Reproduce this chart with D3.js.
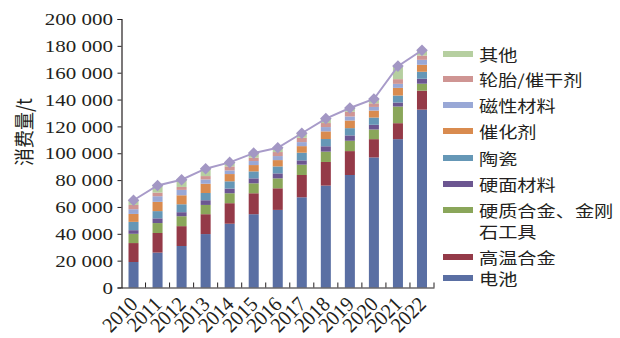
<!DOCTYPE html>
<html><head><meta charset="utf-8">
<script src="https://cdn.jsdelivr.net/npm/d3@7"></script>
<style>body{margin:0;background:#fff}svg{display:block}</style>
</head><body><svg id="c" width="620" height="338"></svg>
<script>
const years = ["2010","2011","2012","2013","2014","2015","2016","2017","2018","2019","2020","2021","2022"];
const battery    = [19000,26000,30900,39800,47500,54600,57800,67200,75900,83800,96900,110500,132500];
const superalloy = [14100,14600,14800,14800,15300,15600,16100,16600,17600,17800,13600,11900,14100];
const carbide    = [6900,7400,7400,6900,7400,7400,7400,7700,7700,7700,7200,12400,5200];
const hardfacing = [2700,3500,3000,3500,3500,3700,3700,3200,4000,4000,3500,3000,3700];
const ceramics   = [6200,5400,5900,5400,5400,5200,5200,5700,5400,5400,5400,5200,5200];
const catalyst   = [5900,6900,6700,6900,5400,4700,4700,4900,5700,5700,5200,5700,5200];
const magnetic   = [3500,4200,4000,3200,2700,3000,3000,3000,3200,3000,2700,3000,3700];
const tyre       = [3200,2700,2200,2500,3000,2500,3000,3200,3000,3500,2700,3500,3200];
const other      = [3500,5300,5400,5500,3000,3400,3200,3400,3300,2800,3200,9700,3900];
const totals     = [65000,76000,80300,88500,93200,100100,104100,114900,125800,133700,140400,164900,176700];
const yTicks = [0,20000,40000,60000,80000,100000,120000,140000,160000,180000,200000];
const seriesNames = ["电池","高温合金","硬质合金、金刚石工具","硬面材料","陶瓷","催化剂","磁性材料","轮胎/催干剂","其他"];
const seriesVals = [battery,superalloy,carbide,hardfacing,ceramics,catalyst,magnetic,tyre,other];
const colors = ["#5a6fa3","#943a48","#8aa65a","#6c5691","#6597b6","#d98b4f","#99a8d6","#cf9593","#b6cfa0"];
const lineColor = "#a89bc9";

const svg = d3.select("#c");
const ink = "#231f20";
const serif = "'Liberation Serif','Times New Roman',serif";
const cjk = "'Noto Sans CJK SC','Noto Sans CJK TC',sans-serif";

const x = d3.scaleBand().domain(years).range([121.5, 434]).paddingInner(0.583).paddingOuter(0.2915);
const y = d3.scaleLinear().domain([0, 200000]).range([287.5, 19]);

const table = years.map((yr, i) => {
  const o = {year: yr};
  seriesNames.forEach((n, k) => o[n] = seriesVals[k][i]);
  return o;
});
const stacked = d3.stack().keys(seriesNames)(table);
const color = d3.scaleOrdinal().domain(seriesNames).range(colors);

svg.append("g").selectAll("g").data(stacked).join("g")
  .attr("fill", d => color(d.key))
  .selectAll("rect").data(d => d).join("rect")
  .attr("x", d => x(d.data.year))
  .attr("width", x.bandwidth())
  .attr("y", d => y(d[1]))
  .attr("height", d => y(d[0]) - y(d[1]));

const cx = d => x(d) + x.bandwidth() / 2;
svg.append("path")
  .datum(years.map((yr, i) => [cx(yr), y(totals[i])]))
  .attr("fill", "none").attr("stroke", lineColor).attr("stroke-width", 2)
  .attr("d", d3.line());
svg.append("g").selectAll("path").data(years).join("path")
  .attr("transform", (d, i) => `translate(${cx(d)},${y(totals[i])})`)
  .attr("d", d3.symbol().type(d3.symbolDiamond2).size(85))
  .attr("fill", "#a397c4");

const yAxis = svg.append("g").attr("transform", "translate(121.5,0)")
  .call(d3.axisLeft(y).tickValues(yTicks).tickSize(4).tickPadding(0)
    .tickFormat(d => d3.format(",")(d).replace(/,/g, " ")));
yAxis.select(".domain").attr("stroke", ink).attr("stroke-width", 1.2);
yAxis.selectAll(".tick line").attr("stroke", ink).attr("stroke-width", 1);
yAxis.selectAll(".tick text")
  .attr("x", -7.1).attr("transform", "scale(1.2,1)")
  .attr("font-family", serif).attr("font-size", 17.5).attr("fill", ink);

const xAxis = svg.append("g").attr("transform", "translate(0,287.5)")
  .call(d3.axisBottom(x).tickSize(0).tickPadding(0).tickFormat(""));
xAxis.select(".domain").attr("stroke", ink).attr("stroke-width", 1.2);
const bounds = years.map(yr => x(yr) - x.step() * x.paddingInner() / 2 + x.step());
svg.append("g").selectAll("line").data(bounds).join("line")
  .attr("x1", d => d).attr("x2", d => d).attr("y1", 287.5).attr("y2", 282.5)
  .attr("stroke", ink).attr("stroke-width", 1);
svg.append("g").selectAll("text").data(years).join("text")
  .attr("transform", d => `translate(${cx(d) + 2},${302}) rotate(-45) scale(1.05,1.1)`)
  .attr("text-anchor", "end").attr("dominant-baseline", "middle")
  .attr("font-family", serif).attr("font-size", 19).attr("fill", ink)
  .text(d => d);

svg.append("text")
  .attr("transform", "translate(23,132) rotate(-90) scale(1,1.15)")
  .attr("text-anchor", "middle").attr("dominant-baseline", "central")
  .attr("font-family", cjk).attr("font-size", 18).attr("fill", ink)
  .text("消费量/t");

const legendRows = [
  {name: "其他", y: 54},
  {name: "轮胎/催干剂", y: 79},
  {name: "磁性材料", y: 105},
  {name: "催化剂", y: 131},
  {name: "陶瓷", y: 158},
  {name: "硬面材料", y: 184},
  {name: "硬质合金、金刚石工具", y: 210, lines: ["硬质合金、金刚", "石工具"]},
  {name: "高温合金", y: 257},
  {name: "电池", y: 278}
];
const lg = svg.append("g");
legendRows.forEach(r => {
  lg.append("rect").attr("x", 443).attr("y", r.y - 3).attr("width", 30).attr("height", 6)
    .attr("fill", color(r.name));
  const lines = r.lines || [r.name];
  lines.forEach((t, j) => {
    lg.append("text")
      .attr("transform", `translate(479,${r.y + j * 21}) scale(1.2,1)`)
      .attr("dominant-baseline", "central")
      .attr("font-family", cjk).attr("font-size", 16).attr("fill", ink)
      .text(t);
  });
});
</script></body></html>
